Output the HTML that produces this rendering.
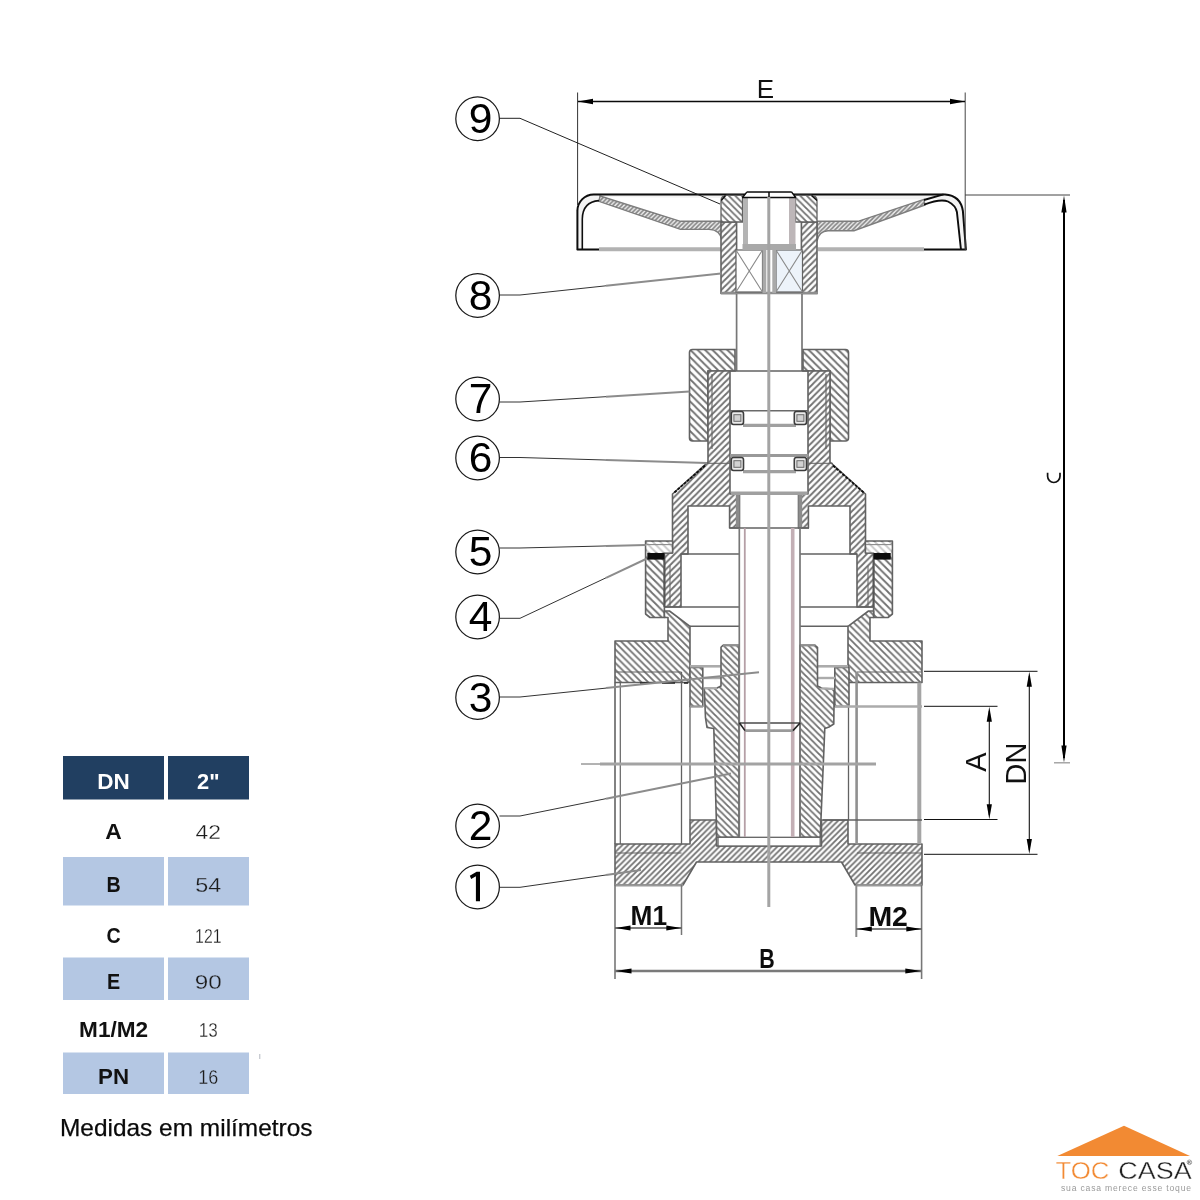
<!DOCTYPE html>
<html><head><meta charset="utf-8"><title>Registro de gaveta - dimensões</title>
<style>
html,body{margin:0;padding:0;background:#fff;}
body{width:1200px;height:1200px;overflow:hidden;font-family:"Liberation Sans",sans-serif;}
svg{display:block;font-family:"Liberation Sans",sans-serif;}
</style></head>
<body>
<svg width="1200" height="1200" viewBox="0 0 1200 1200">
<rect width="1200" height="1200" fill="#fff"/>
<defs>
<pattern id="hf" width="6.4" height="6.4" patternUnits="userSpaceOnUse"><rect width="6.4" height="6.4" fill="#fff"/><path d="M-1.6,1.6 L1.6,-1.6 M0,6.4 L6.4,0 M4.800000000000001,8.0 L8.0,4.800000000000001" stroke="#707070" stroke-width="1.8"/></pattern>
<pattern id="hb" width="6.5" height="6.5" patternUnits="userSpaceOnUse"><rect width="6.5" height="6.5" fill="#fff"/><path d="M-1.625,4.875 L1.625,8.125 M0,0 L6.5,6.5 M4.875,-1.625 L8.125,1.625" stroke="#707070" stroke-width="1.8"/></pattern>
<pattern id="bf" width="5.8" height="5.8" patternUnits="userSpaceOnUse"><rect width="5.8" height="5.8" fill="#fff"/><path d="M-1.45,1.45 L1.45,-1.45 M0,5.8 L5.8,0 M4.35,7.25 L7.25,4.35" stroke="#707070" stroke-width="1.8"/></pattern>
<pattern id="bb" width="6.8" height="6.8" patternUnits="userSpaceOnUse"><rect width="6.8" height="6.8" fill="#fff"/><path d="M-1.7,5.1 L1.7,8.5 M0,0 L6.8,6.8 M5.1,-1.7 L8.5,1.7" stroke="#707070" stroke-width="1.8"/></pattern>
<pattern id="nb" width="7.4" height="7.4" patternUnits="userSpaceOnUse"><rect width="7.4" height="7.4" fill="#fff"/><path d="M-1.85,5.550000000000001 L1.85,9.25 M0,0 L7.4,7.4 M5.550000000000001,-1.85 L9.25,1.85" stroke="#707070" stroke-width="1.8"/></pattern>
<pattern id="hw" width="4.4" height="4.4" patternUnits="userSpaceOnUse"><rect width="4.4" height="4.4" fill="#eeeeee"/><path d="M-1.1,1.1 L1.1,-1.1 M0,4.4 L4.4,0 M3.3000000000000003,5.5 L5.5,3.3000000000000003" stroke="#858585" stroke-width="1.7"/></pattern>
<filter id="soft" x="-2%" y="-2%" width="104%" height="104%"><feGaussianBlur stdDeviation="0.7"/></filter>
</defs>
<g filter="url(#soft)">
<path d="M599,249.5 H577.4 V211 A16.3,16.3 0 0 1 593.7,194.5 H945 Q960.5,195.5 962.9,211 L965.9,249.5 H924" fill="#f3f3f3" stroke="none" stroke-width="0" />
<path d="M583,249 V219 Q583,201.5 599,200.6 L600,197 L924,199.5 Q940,198 947,201.5 Q955,205.5 956.8,212 L960.9,249 Z" fill="#fff" stroke="none" stroke-width="0" />
<line x1="599" y1="249.3" x2="721" y2="249.3" stroke="#b2b2b2" stroke-width="4" />
<line x1="818" y1="249.3" x2="924" y2="249.3" stroke="#b2b2b2" stroke-width="4" />
<path d="M600,196 L680.5,221.3 L722,221.3 L722,241 Q720.5,229.8 709,229.4 L680.5,229.4 L599,201.4 Z" fill="url(#hw)" stroke="#7d7d7d" stroke-width="1.4" />
<path d="M924,199.4 L858,221.3 L817,221.3 L817,241 Q819,231 828,230.7 L854,230.7 L925,205 Z" fill="url(#hw)" stroke="#7d7d7d" stroke-width="1.4" />
<path d="M599,249.5 H577.4 V211 A16.3,16.3 0 0 1 593.7,194.5 H945 Q960.5,195.5 962.9,211 L965.9,249.5 H924" fill="none" stroke="#0c0c0c" stroke-width="2" stroke-linejoin="round"/>
<path d="M582.3,249 V219 Q582.6,201.8 599,200.6" fill="none" stroke="#111" stroke-width="1.6" />
<path d="M924,204.7 Q940.5,198.3 948,201.5 Q955.5,205.3 956.9,212 L960.9,249" fill="none" stroke="#0c0c0c" stroke-width="1.9" />
<path d="M924,200 L943.5,194.3" fill="none" stroke="#0c0c0c" stroke-width="1.9" />
<polygon points="721,222 736.6,222 736.6,293.5 721,293.5" fill="url(#hf)" stroke="#626262" stroke-width="1.6" stroke-linejoin="round" />
<polygon points="817,222 801.4,222 801.4,293.5 817,293.5" fill="url(#hf)" stroke="#626262" stroke-width="1.6" stroke-linejoin="round" />
<line x1="721" y1="293" x2="818" y2="293" stroke="#8e8e8e" stroke-width="2.4" />
<rect x="736" y="250" width="26.5" height="42" fill="#fff" stroke="#626262" stroke-width="1.2" />
<rect x="776" y="250" width="26.5" height="42" fill="#edf3fa" stroke="#626262" stroke-width="1.2" />
<path d="M736,250 L762.5,292 M762.5,250 L736,292 M776,250 L802.5,292 M802.5,250 L776,292" fill="none" stroke="#8a8a8a" stroke-width="1.1" />
<rect x="762.5" y="250" width="3.8" height="43" fill="#a9a9a9" stroke="none" stroke-width="0" />
<rect x="772.3" y="250" width="3.8" height="43" fill="#a9a9a9" stroke="none" stroke-width="0" />
<path d="M721,201 Q721,195.3 727,195.3 L742.5,195.3 L742.5,222 L721,222 Z" fill="url(#hb)" stroke="#626262" stroke-width="1.3" />
<path d="M817.0,201 Q817.0,195.3 811.0,195.3 L795.5,195.3 L795.5,222 L817.0,222 Z" fill="url(#hb)" stroke="#626262" stroke-width="1.3" />
<rect x="743" y="198" width="5" height="46" fill="#b4b4b4" stroke="none" stroke-width="0" />
<rect x="789" y="198" width="6.5" height="46" fill="#bdb6b8" stroke="none" stroke-width="0" />
<rect x="742.5" y="244" width="53.5" height="6" fill="#a9a9a9" stroke="none" stroke-width="0" />
<polygon points="747,191.9 791.5,191.9 795.6,197.4 742.6,197.4" fill="#fff"/>
<path d="M747,191.9 H791.5 M742,197.4 H796 M747,191.9 L742.6,197.4 M791.5,191.9 L795.6,197.4 M769,191.9 V197.4" fill="none" stroke="#0a0a0a" stroke-width="1.5" />
<path d="M721.3,200.5 L725.5,195.5 M817,200.5 L811.5,195.5" fill="none" stroke="#111" stroke-width="1.5" />
<line x1="736.6" y1="294" x2="736.6" y2="371" stroke="#777" stroke-width="1.7" />
<line x1="802" y1="294" x2="802" y2="371" stroke="#777" stroke-width="1.7" />
<path d="M692.5,349.5 H735 V371 H708 V441 H692.5 Q689.5,441 689.5,438 V352.5 Q689.5,349.5 692.5,349.5 Z" fill="url(#nb)" stroke="#626262" stroke-width="1.6" />
<path d="M845.5,349.5 H803.0 V371 H830.0 V441 H845.5 Q848.5,441 848.5,438 V352.5 Q848.5,349.5 845.5,349.5 Z" fill="url(#nb)" stroke="#626262" stroke-width="1.6" />
<polygon points="708,371 708,462 672.5,494 672.5,553 664.4,553 664.4,607 681,607 681,554 688,554 688,506 729.6,506 729.6,528 739.5,528 739.5,494 730,494 730,371" fill="url(#hf)" stroke="#626262" stroke-width="1.6" stroke-linejoin="round" />
<polygon points="830,371 830,462 865.5,494 865.5,553 873.6,553 873.6,607 857,607 857,554 850,554 850,506 808.4,506 808.4,528 798.5,528 798.5,494 808,494 808,371" fill="url(#hf)" stroke="#626262" stroke-width="1.6" stroke-linejoin="round" />
<line x1="712" y1="374" x2="712" y2="449" stroke="#626262" stroke-width="1.1" />
<line x1="826" y1="374" x2="826" y2="449" stroke="#626262" stroke-width="1.1" />
<line x1="705" y1="465.5" x2="674" y2="492.8" stroke="#111" stroke-width="1.8" stroke-dasharray="3 1.2"/>
<line x1="833" y1="465.5" x2="864" y2="492.8" stroke="#111" stroke-width="1.8" stroke-dasharray="3 1.2"/>
<rect x="735.8" y="494" width="3.8" height="34" fill="#8c8c8c" stroke="none" stroke-width="0" />
<rect x="798.4" y="494" width="3.8" height="34" fill="#8c8c8c" stroke="none" stroke-width="0" />
<line x1="670" y1="566" x2="670" y2="607" stroke="#626262" stroke-width="1" />
<line x1="868" y1="566" x2="868" y2="607" stroke="#626262" stroke-width="1" />
<line x1="730" y1="371" x2="808.5" y2="371" stroke="#626262" stroke-width="1.3" />
<line x1="730" y1="410.8" x2="808.5" y2="410.8" stroke="#6a6a6a" stroke-width="1.6" />
<line x1="743" y1="425.3" x2="796" y2="425.3" stroke="#a0a0a0" stroke-width="3.2" />
<line x1="730" y1="455.5" x2="808.5" y2="455.5" stroke="#999" stroke-width="3" />
<line x1="730" y1="463.3" x2="705" y2="463.3" stroke="#626262" stroke-width="1" />
<line x1="808.5" y1="463.3" x2="833" y2="463.3" stroke="#626262" stroke-width="1" />
<line x1="743" y1="471.6" x2="796" y2="471.6" stroke="#a0a0a0" stroke-width="3.2" />
<line x1="731" y1="493.3" x2="807.5" y2="493.3" stroke="#a0a0a0" stroke-width="3.4" />
<rect x="731.3" y="411.5" width="12.2" height="13" fill="#ececec" stroke="#3c3c3c" stroke-width="1.6" rx="2.2"/>
<rect x="733.9" y="414.7" width="7" height="6.6" fill="#d2d2d2" stroke="#6a6a6a" stroke-width="1" />
<rect x="794.3" y="411.5" width="12.2" height="13" fill="#ececec" stroke="#3c3c3c" stroke-width="1.6" rx="2.2"/>
<rect x="796.9" y="414.7" width="7" height="6.6" fill="#d2d2d2" stroke="#6a6a6a" stroke-width="1" />
<rect x="731.3" y="457.5" width="12.2" height="13" fill="#ececec" stroke="#3c3c3c" stroke-width="1.6" rx="2.2"/>
<rect x="733.9" y="460.7" width="7" height="6.6" fill="#d2d2d2" stroke="#6a6a6a" stroke-width="1" />
<rect x="794.3" y="457.5" width="12.2" height="13" fill="#ececec" stroke="#3c3c3c" stroke-width="1.6" rx="2.2"/>
<rect x="796.9" y="460.7" width="7" height="6.6" fill="#d2d2d2" stroke="#6a6a6a" stroke-width="1" />
<line x1="681" y1="554" x2="739" y2="554" stroke="#626262" stroke-width="1.4" />
<line x1="800" y1="554" x2="857" y2="554" stroke="#626262" stroke-width="1.4" />
<line x1="729.6" y1="528" x2="809" y2="528" stroke="#626262" stroke-width="1.3" />
<line x1="664.4" y1="607" x2="739" y2="607" stroke="#626262" stroke-width="1.5" />
<line x1="800" y1="607" x2="873.6" y2="607" stroke="#626262" stroke-width="1.5" />
<polygon points="645.6,541 672.5,541 672.5,553 664.4,553 664.4,617.5 650,617.5 645.6,614" fill="url(#nb)" stroke="#626262" stroke-width="1.6" stroke-linejoin="round" />
<polygon points="892.4,541 865.5,541 865.5,553 873.6,553 873.6,617.5 888,617.5 892.4,614" fill="url(#nb)" stroke="#626262" stroke-width="1.6" stroke-linejoin="round" />
<rect x="646.6" y="542" width="25" height="10.4" fill="#fff" stroke="none" stroke-width="0" fill-opacity="0.62"/>
<rect x="866.4" y="542" width="25" height="10.4" fill="#fff" stroke="none" stroke-width="0" fill-opacity="0.62"/>
<line x1="646.5" y1="544.6" x2="672" y2="544.6" stroke="#8a8a8a" stroke-width="1.1" />
<line x1="891.5" y1="544.6" x2="866" y2="544.6" stroke="#8a8a8a" stroke-width="1.1" />
<rect x="647.3" y="553" width="17.2" height="6.6" fill="#0c0c0c" stroke="none" stroke-width="0" />
<rect x="873.5" y="553" width="17.2" height="6.6" fill="#0c0c0c" stroke="none" stroke-width="0" />
<line x1="664.4" y1="559.6" x2="664.4" y2="607" stroke="#555" stroke-width="1.8" />
<line x1="873.6" y1="559.6" x2="873.6" y2="607" stroke="#555" stroke-width="1.8" />
<polygon points="615,641 668,641 668,617.5 664.4,617.5 664.4,611 669.5,611 690,626.3 690,682.5 615,682.5" fill="url(#bb)" stroke="#626262" stroke-width="1.6" stroke-linejoin="round" />
<polygon points="922,641 870,641 870,617.5 873.6,617.5 873.6,611 868.5,611 848,626.3 848,682.5 922,682.5" fill="url(#bb)" stroke="#626262" stroke-width="1.6" stroke-linejoin="round" />
<line x1="615" y1="672" x2="681.5" y2="672" stroke="#626262" stroke-width="1.2" />
<line x1="857" y1="672" x2="922" y2="672" stroke="#626262" stroke-width="1.2" />
<line x1="640" y1="683" x2="688" y2="683" stroke="#222" stroke-width="1.5" stroke-dasharray="13 9"/>
<polygon points="690,667.5 702.8,667.5 702.8,706.5 690,706.5" fill="url(#hb)" stroke="#626262" stroke-width="1.6" stroke-linejoin="round" />
<polygon points="834.8,667.5 849,667.5 849,706.5 834.8,706.5" fill="url(#hb)" stroke="#626262" stroke-width="1.6" stroke-linejoin="round" />
<line x1="690" y1="666.3" x2="721" y2="666.3" stroke="#ababab" stroke-width="2.6" />
<line x1="848" y1="666.3" x2="817" y2="666.3" stroke="#ababab" stroke-width="2.6" />
<line x1="703" y1="678" x2="721" y2="678" stroke="#ababab" stroke-width="2.4" />
<line x1="835" y1="678" x2="817" y2="678" stroke="#ababab" stroke-width="2.4" />
<line x1="690" y1="626.3" x2="739" y2="626.3" stroke="#626262" stroke-width="1.4" />
<line x1="800" y1="626.3" x2="848" y2="626.3" stroke="#626262" stroke-width="1.4" />
<polygon points="615,844 690,844 690,820 716.5,820 716.5,846 821.5,846 821.5,820 848,820 848,844 922,844 922,885 855,885 841.5,862 696.5,862 683,885 615,885" fill="url(#bf)" stroke="#626262" stroke-width="1.6" stroke-linejoin="round" />
<line x1="615" y1="853" x2="681.5" y2="853" stroke="#626262" stroke-width="1.1" />
<line x1="857" y1="853" x2="922" y2="853" stroke="#626262" stroke-width="1.1" />
<line x1="615" y1="885.3" x2="683" y2="885.3" stroke="#999" stroke-width="2.2" />
<line x1="856" y1="885.3" x2="922" y2="885.3" stroke="#999" stroke-width="2.2" />
<line x1="615" y1="682.5" x2="615" y2="844" stroke="#626262" stroke-width="1.6" />
<line x1="620.3" y1="682.5" x2="620.3" y2="844" stroke="#626262" stroke-width="1.2" />
<line x1="681.5" y1="672" x2="681.5" y2="844" stroke="#626262" stroke-width="1.3" />
<line x1="690" y1="706.5" x2="690" y2="820" stroke="#626262" stroke-width="1.3" />
<line x1="919.3" y1="682.5" x2="919.3" y2="844" stroke="#a5a5a5" stroke-width="4" />
<line x1="856.6" y1="672" x2="856.6" y2="844" stroke="#909090" stroke-width="2.6" />
<line x1="848.5" y1="706.5" x2="848.5" y2="820" stroke="#626262" stroke-width="1.3" />
<line x1="690" y1="706.5" x2="703" y2="706.5" stroke="#999" stroke-width="2" />
<line x1="835" y1="706.5" x2="922" y2="706.5" stroke="#ababab" stroke-width="2.6" />
<line x1="823" y1="820" x2="922" y2="820" stroke="#626262" stroke-width="1.3" />
<polygon points="723,645.3 739,645.3 739,837.3 716.8,837.3 713.8,728.5 707,727.5 705.5,718 704.3,688.3 716.5,688.3 721,686 721,647.3" fill="url(#hb)" stroke="#626262" stroke-width="1.6" stroke-linejoin="round" />
<polygon points="815,645.3 800,645.3 800,837.3 820.2,837.3 824.8,728.5 829,727 833.8,724 834.2,689 822,688.3 817.5,686 817.5,647.3" fill="url(#hb)" stroke="#626262" stroke-width="1.6" stroke-linejoin="round" />
<line x1="723" y1="645.3" x2="739" y2="645.3" stroke="#8f8f8f" stroke-width="2.2" />
<line x1="800" y1="645.3" x2="815.5" y2="645.3" stroke="#8f8f8f" stroke-width="2.2" />
<line x1="704.3" y1="688.3" x2="717" y2="688.3" stroke="#ababab" stroke-width="2.2" />
<line x1="821" y1="688.5" x2="834" y2="688.8" stroke="#ababab" stroke-width="2.2" />
<rect x="718" y="837.3" width="102.2" height="8.7" fill="#fff" stroke="#626262" stroke-width="1.3" />
<line x1="739.3" y1="528" x2="739.3" y2="837" stroke="#777" stroke-width="1.7" />
<line x1="800" y1="528" x2="800" y2="837" stroke="#777" stroke-width="1.7" />
<line x1="744.8" y1="528" x2="744.8" y2="837" stroke="#b59fa6" stroke-width="1.8" />
<line x1="792.7" y1="528" x2="792.7" y2="837" stroke="#c3afb5" stroke-width="3.6" />
<line x1="739.3" y1="723" x2="800" y2="723" stroke="#4a4a4a" stroke-width="1.5" />
<line x1="745" y1="730.6" x2="793" y2="730.6" stroke="#9a9a9a" stroke-width="2.6" />
<path d="M739.5,723 L745,730.6 M800,723 L793,730.6" fill="none" stroke="#222" stroke-width="1.6" />
<line x1="768.8" y1="197" x2="768.8" y2="907" stroke="#a4a4a4" stroke-width="3" />
<line x1="581" y1="764" x2="600" y2="764" stroke="#666" stroke-width="1" />
<line x1="600" y1="764" x2="876" y2="764" stroke="#a3a3a3" stroke-width="2.8" />
<line x1="615" y1="885" x2="615" y2="979" stroke="#777" stroke-width="1.6" />
<line x1="921.6" y1="885" x2="921.6" y2="979" stroke="#777" stroke-width="1.6" />
<line x1="681.5" y1="885" x2="681.5" y2="935" stroke="#777" stroke-width="1.5" />
<line x1="856.3" y1="885" x2="856.3" y2="937" stroke="#8a8a8a" stroke-width="2" />
<line x1="615" y1="928" x2="681.5" y2="928" stroke="#555" stroke-width="1.3" />
<line x1="856.3" y1="929" x2="921.6" y2="929" stroke="#555" stroke-width="1.3" />
<polygon points="615.5,928 630.5,925.6 630.5,930.4" fill="#000"/>
<polygon points="681.3,928 666.3,925.6 666.3,930.4" fill="#000"/>
<polygon points="856.8,929 871.8,926.6 871.8,931.4" fill="#000"/>
<polygon points="921.3,929 906.3,926.6 906.3,931.4" fill="#000"/>
<line x1="615" y1="971" x2="921.6" y2="971" stroke="#7a7a7a" stroke-width="2.4" />
<polygon points="615.5,971 631.5,968.4 631.5,973.6" fill="#000"/>
<polygon points="921.3,971 905.3,968.4 905.3,973.6" fill="#000"/>
<polyline points="606,285.801 721,273.5" fill="none" stroke="#8c8c8c" stroke-width="2"/>
<polyline points="606,396.673 689.5,391.5" fill="none" stroke="#8c8c8c" stroke-width="2"/>
<polyline points="606,460.029 707,463" fill="none" stroke="#8c8c8c" stroke-width="2"/>
<polyline points="606,545.952 646,545" fill="none" stroke="#8c8c8c" stroke-width="2"/>
<polyline points="606,577.825 646,559" fill="none" stroke="#8c8c8c" stroke-width="2"/>
<polyline points="606,688.112 759,672.3" fill="none" stroke="#8c8c8c" stroke-width="2"/>
<polyline points="606,798.678 731,773.5" fill="none" stroke="#8c8c8c" stroke-width="2"/>
<polyline points="606,875.004 641,870" fill="none" stroke="#8c8c8c" stroke-width="2"/>
<text x="648.8" y="925.3" font-size="28.5" font-weight="bold" text-anchor="middle" fill="#111" textLength="36.5" lengthAdjust="spacingAndGlyphs">M1</text>
<text x="888.2" y="926.3" font-size="28.5" font-weight="bold" text-anchor="middle" fill="#111" textLength="39.5" lengthAdjust="spacingAndGlyphs">M2</text>
<text x="767" y="968" font-size="28.5" font-weight="bold" text-anchor="middle" fill="#111" textLength="15.5" lengthAdjust="spacingAndGlyphs">B</text>
</g>
<g opacity="0.999">
<line x1="577.6" y1="92.5" x2="577.6" y2="205" stroke="#333" stroke-width="1" />
<line x1="965.2" y1="92.5" x2="965.2" y2="250" stroke="#444" stroke-width="1" />
<line x1="578" y1="101.5" x2="965" y2="101.5" stroke="#0a0a0a" stroke-width="1.3" />
<polygon points="578,101.5 593,98.8 593,104.2" fill="#000"/>
<polygon points="965,101.5 950,98.8 950,104.2" fill="#000"/>
<line x1="965" y1="195" x2="1070" y2="195" stroke="#444" stroke-width="1" />
<line x1="1064" y1="200" x2="1064" y2="758" stroke="#000" stroke-width="2" />
<polygon points="1064,195.5 1061.4,212.5 1066.6,212.5" fill="#000"/>
<polygon points="1064,762.5 1061.4,745.5 1066.6,745.5" fill="#000"/>
<line x1="1054" y1="762.8" x2="1070" y2="762.8" stroke="#999" stroke-width="1.3" />
<line x1="924" y1="671.3" x2="1037.5" y2="671.3" stroke="#111" stroke-width="1" />
<line x1="924" y1="854.3" x2="1037.5" y2="854.3" stroke="#111" stroke-width="1" />
<line x1="1029.3" y1="676" x2="1029.3" y2="850" stroke="#111" stroke-width="1.1" />
<polygon points="1029.3,671.8 1026.7,686.8 1031.9,686.8" fill="#000"/>
<polygon points="1029.3,854 1026.7,839 1031.9,839" fill="#000"/>
<line x1="924" y1="706.3" x2="997.5" y2="706.3" stroke="#111" stroke-width="1" />
<line x1="924" y1="819.5" x2="997.5" y2="819.5" stroke="#111" stroke-width="1" />
<line x1="989.3" y1="711" x2="989.3" y2="815" stroke="#111" stroke-width="1.1" />
<polygon points="989.3,706.8 986.7,721.8 991.9,721.8" fill="#000"/>
<polygon points="989.3,819.2 986.7,804.2 991.9,804.2" fill="#000"/>
<polyline points="499.5,118.3 520,118.3 720,204" fill="none" stroke="#222" stroke-width="1"/>
<circle cx="477.6" cy="118.75" r="21.8" fill="#fff" stroke="#1a1a1a" stroke-width="1.25"/>
<text x="480.6" y="133.05" font-size="42.5" text-anchor="middle" fill="#000">9</text>
<polyline points="499.5,295 520,295 606,285.801" fill="none" stroke="#333" stroke-width="1"/>
<circle cx="477.6" cy="295.5" r="21.8" fill="#fff" stroke="#1a1a1a" stroke-width="1.25"/>
<text x="480.6" y="309.8" font-size="42.5" text-anchor="middle" fill="#000">8</text>
<polyline points="499.5,402 520,402 606,396.673" fill="none" stroke="#333" stroke-width="1"/>
<circle cx="477.6" cy="399" r="21.8" fill="#fff" stroke="#1a1a1a" stroke-width="1.25"/>
<text x="480.6" y="413.3" font-size="42.5" text-anchor="middle" fill="#000">7</text>
<polyline points="499.5,457.5 520,457.5 606,460.029" fill="none" stroke="#333" stroke-width="1"/>
<circle cx="477.6" cy="458" r="21.8" fill="#fff" stroke="#1a1a1a" stroke-width="1.25"/>
<text x="480.6" y="472.3" font-size="42.5" text-anchor="middle" fill="#000">6</text>
<polyline points="499.5,548 520,548 606,545.952" fill="none" stroke="#333" stroke-width="1"/>
<circle cx="477.6" cy="552" r="21.8" fill="#fff" stroke="#1a1a1a" stroke-width="1.25"/>
<text x="480.6" y="566.3" font-size="42.5" text-anchor="middle" fill="#000">5</text>
<polyline points="499.5,618.3 520,618.3 606,577.825" fill="none" stroke="#333" stroke-width="1"/>
<circle cx="477.6" cy="617" r="21.8" fill="#fff" stroke="#1a1a1a" stroke-width="1.25"/>
<text x="480.6" y="631.3" font-size="42.5" text-anchor="middle" fill="#000">4</text>
<polyline points="499.5,697 520,697 606,688.112" fill="none" stroke="#333" stroke-width="1"/>
<circle cx="477.6" cy="697.5" r="21.8" fill="#fff" stroke="#1a1a1a" stroke-width="1.25"/>
<text x="480.6" y="711.8" font-size="42.5" text-anchor="middle" fill="#000">3</text>
<polyline points="499.5,816 520,816 606,798.678" fill="none" stroke="#333" stroke-width="1"/>
<circle cx="477.6" cy="826" r="21.8" fill="#fff" stroke="#1a1a1a" stroke-width="1.25"/>
<text x="480.6" y="840.3" font-size="42.5" text-anchor="middle" fill="#000">2</text>
<polyline points="499.5,887.3 520,887.3 606,875.004" fill="none" stroke="#333" stroke-width="1"/>
<circle cx="477.6" cy="887" r="21.8" fill="#fff" stroke="#1a1a1a" stroke-width="1.25"/>
<path d="M480,871.8 V901.2 H475.9 V876.3 L471.2,878.9 L469.8,875.7 L476.6,871.8 Z" fill="#000"/>
<text x="765.3" y="97.5" font-size="26" text-anchor="middle" fill="#111">E</text>
<text transform="translate(986.3,762) rotate(-90)" font-size="29" text-anchor="middle" fill="#111">A</text>
<text transform="translate(1026,763.5) rotate(-90)" font-size="29" text-anchor="middle" fill="#111">DN</text>
<path d="M1047.6,472.8 V476.3 A6.2,6.2 0 0 0 1060,476.3 V472.8" fill="none" stroke="#111" stroke-width="1.7" />
<rect x="63" y="756" width="101" height="43.5" fill="#213f61" stroke="none" stroke-width="0" />
<rect x="168" y="756" width="81" height="43.5" fill="#213f61" stroke="none" stroke-width="0" />
<rect x="63" y="857" width="101" height="48.5" fill="#b4c7e3" stroke="none" stroke-width="0" />
<rect x="168" y="857" width="81" height="48.5" fill="#b4c7e3" stroke="none" stroke-width="0" />
<rect x="63" y="957.5" width="101" height="42.5" fill="#b4c7e3" stroke="none" stroke-width="0" />
<rect x="168" y="957.5" width="81" height="42.5" fill="#b4c7e3" stroke="none" stroke-width="0" />
<rect x="63" y="1052.5" width="101" height="41.5" fill="#b4c7e3" stroke="none" stroke-width="0" />
<rect x="168" y="1052.5" width="81" height="41.5" fill="#b4c7e3" stroke="none" stroke-width="0" />
<text x="113.6" y="789.3" font-size="21.4" font-weight="bold" text-anchor="middle" fill="#fff" textLength="32.5" lengthAdjust="spacingAndGlyphs">DN</text>
<text x="208.3" y="789.3" font-size="21.4" font-weight="bold" text-anchor="middle" fill="#fff" textLength="22.5" lengthAdjust="spacingAndGlyphs">2&quot;</text>
<text x="113.6" y="839.3" font-size="21.4" font-weight="bold" text-anchor="middle" fill="#111" textLength="16.5" lengthAdjust="spacingAndGlyphs">A</text>
<text x="208.3" y="839.3" font-size="20.8" text-anchor="middle" fill="#1c1c1c" stroke="#fff" stroke-width="0.3" textLength="25.5" lengthAdjust="spacingAndGlyphs">42</text>
<text x="113.6" y="891.5" font-size="21.4" font-weight="bold" text-anchor="middle" fill="#111" textLength="14.2" lengthAdjust="spacingAndGlyphs">B</text>
<text x="208.3" y="891.5" font-size="20.8" text-anchor="middle" fill="#1c1c1c" stroke="#b4c7e3" stroke-width="0.3" textLength="26" lengthAdjust="spacingAndGlyphs">54</text>
<text x="113.6" y="942.5" font-size="21.4" font-weight="bold" text-anchor="middle" fill="#111" textLength="14.2" lengthAdjust="spacingAndGlyphs">C</text>
<text x="208.3" y="942.5" font-size="20.8" text-anchor="middle" fill="#1c1c1c" stroke="#fff" stroke-width="0.3" textLength="26.5" lengthAdjust="spacingAndGlyphs">121</text>
<text x="113.6" y="989.3" font-size="21.4" font-weight="bold" text-anchor="middle" fill="#111" textLength="13.2" lengthAdjust="spacingAndGlyphs">E</text>
<text x="208.3" y="989.3" font-size="20.8" text-anchor="middle" fill="#1c1c1c" stroke="#b4c7e3" stroke-width="0.3" textLength="27" lengthAdjust="spacingAndGlyphs">90</text>
<text x="113.6" y="1037" font-size="21.4" font-weight="bold" text-anchor="middle" fill="#111" textLength="69" lengthAdjust="spacingAndGlyphs">M1/M2</text>
<text x="208.3" y="1037" font-size="20.8" text-anchor="middle" fill="#1c1c1c" stroke="#fff" stroke-width="0.3" textLength="19" lengthAdjust="spacingAndGlyphs">13</text>
<text x="113.6" y="1084.3" font-size="21.4" font-weight="bold" text-anchor="middle" fill="#111" textLength="31" lengthAdjust="spacingAndGlyphs">PN</text>
<text x="208.3" y="1084.3" font-size="20.8" text-anchor="middle" fill="#1c1c1c" stroke="#b4c7e3" stroke-width="0.3" textLength="20" lengthAdjust="spacingAndGlyphs">16</text>
<text x="60" y="1136" font-size="24" fill="#0a0a0a" stroke="#0a0a0a" stroke-width="0.25" textLength="252.5" lengthAdjust="spacingAndGlyphs">Medidas em milímetros</text>
<rect x="259" y="1054" width="1.4" height="5" fill="#c9ccd2" stroke="none" stroke-width="0" />
<polygon points="1124,1125.7 1190,1156 1057.3,1156" fill="#f28a33"/>
<text x="1055.5" y="1178.8" font-size="24.2" fill="#f28a33" stroke="#fff" stroke-width="0.4" textLength="54" lengthAdjust="spacingAndGlyphs">TOC</text>
<text x="1118.2" y="1178.8" font-size="24.2" fill="#222" stroke="#fff" stroke-width="0.4" textLength="73.5" lengthAdjust="spacingAndGlyphs">CASA</text>
<circle cx="1189.4" cy="1162.3" r="2.3" fill="none" stroke="#555" stroke-width="0.55"/>
<text x="1189.45" y="1163.7" font-size="3.8" font-weight="bold" text-anchor="middle" fill="#555">R</text>
<text x="1061" y="1190.8" font-size="8.6" fill="#9a9a9a" textLength="130" lengthAdjust="spacing">sua casa merece esse toque</text>
</g>
</svg>
</body></html>
